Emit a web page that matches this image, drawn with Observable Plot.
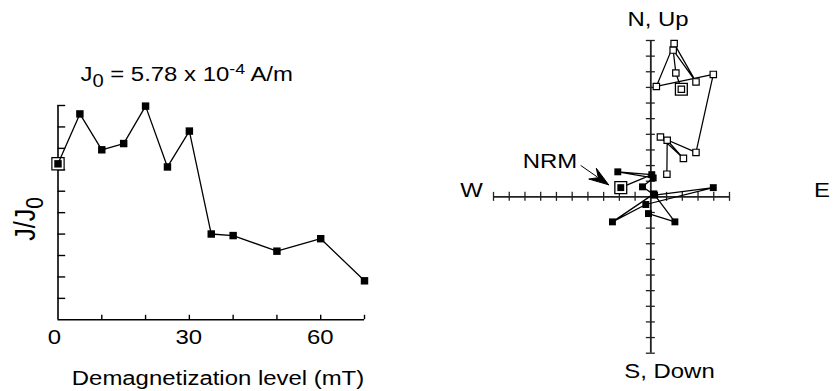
<!DOCTYPE html>
<html><head><meta charset="utf-8">
<script src="https://cdn.jsdelivr.net/npm/d3@7"></script>
<script src="https://cdn.jsdelivr.net/npm/@observablehq/plot@0.6"></script>
<style>
html,body{margin:0;padding:0;background:#fff;}
#wrap{position:relative;width:835px;height:391px;overflow:hidden;background:#fff;}
#wrap svg{position:absolute;top:0;overflow:visible;}
</style></head><body><div id="wrap"></div>
<script>
// ---------- Left panel: normalised intensity vs demagnetization ----------
const demagLevels    = [0, 5, 10, 15, 20, 25, 30, 35, 40, 50, 60, 70];
const intensityRatio = [1.00, 1.32, 1.09, 1.13, 1.37, 0.98, 1.21, 0.55, 0.54, 0.44, 0.52, 0.25];
const xTickValues = [10, 20, 30, 40, 50, 60, 70];
const xTickLabels = [0, 30, 60];
const yTickValues = [0.1374, 0.2748, 0.4122, 0.5496, 0.687, 0.8244, 0.9618, 1.0992, 1.2366, 1.374];

// ---------- Right panel: orthogonal (Zijderveld) projection ----------
// open squares: vertical projection; filled squares: horizontal projection
const vertX = [1.94, 1.59, 1.42, 2.87, 1.48, 0.35, 3.97, 2.87, 0.61, 2.07, 1.04, 1.02];
const vertY = [6.88, 7.92, 9.39, 7.35, 9.80, 7.06, 7.83, 2.84, 3.83, 2.46, 3.62, 1.45];
const horX  = [-1.91, 0.06, -2.10, 0.15, -0.53, 0.24, 3.97, -0.32, -2.44, 0.19, 1.53, -0.15];
const horY  = [0.59, 1.42, 1.60, 1.21, 0.64, 0.11, 0.59, -0.49, -1.60, 0.19, -1.60, -1.07];
const zxTicks = [-10,-9,-8,-7,-6,-5,-4,-3,-2,-1,1,2,3,4,5];
const zyTicks = [-10,-9,-8,-7,-6,-5,-4,-3,-2,-1,1,2,3,4,5,6,7,8,9,10];
const nrmArrow = {tail: [-4.46, 2.01], tip: [-2.68, 0.77]};

const FONT = "'Liberation Sans', Arial, Helvetica, sans-serif";
const SX = 1.15;
const wrap = document.getElementById("wrap");

function addText(svg, x, y, parts, opt = {}) {
  const size = opt.size || 20.8;
  let tr = `translate(${x},${y}) scale(${SX},1)`;
  if (opt.rotate) tr += ` rotate(${opt.rotate})`;
  const g = d3.select(svg).append("g").attr("transform", tr);
  const t = g.append("text").attr("text-anchor", opt.anchor || "middle")
    .attr("font-family", FONT).attr("font-size", size).attr("fill", "#000");
  for (const p of parts) {
    const ts = t.append("tspan").text(p.text);
    if (p.size) ts.attr("font-size", p.size);
    if (p.dy) ts.attr("dy", p.dy);
  }
}

// ----- left plot -----
const leftData = demagLevels.map((d, i) => ({mT: d, r: intensityRatio[i]}));
const left = Plot.plot({
  width: 420, height: 391,
  marginLeft: 57.5, marginRight: 56, marginTop: 105, marginBottom: 71.7,
  x: {domain: [0, 70], axis: null},
  y: {domain: [0, yTickValues[yTickValues.length - 1]], axis: null},
  style: {background: "transparent"},
  marks: [
    Plot.ruleX([0], {stroke: "#000", strokeWidth: 1.6}),
    Plot.ruleY([0], {stroke: "#000", strokeWidth: 1.6}),
    Plot.ruleX(xTickValues, {x: d => d, y1: 0, y2: 0, insetTop: -4.5, insetBottom: 0, stroke: "#000", strokeWidth: 1.4}),
    Plot.ruleY(yTickValues, {y: d => d, x1: 0, x2: 0, insetLeft: 0, insetRight: -7.7, stroke: "#000", strokeWidth: 1.4}),
    Plot.dot([leftData[0]], {x: "mT", y: "r", symbol: "square", r: 6.9, fill: "white", stroke: "#000", strokeWidth: 1.2}),
    Plot.line(leftData, {x: "mT", y: "r", stroke: "#000", strokeWidth: 1.3}),
    Plot.dot(leftData, {x: "mT", y: "r", symbol: "square", r: 4.2, fill: "#000"})
  ]
});
left.style.left = "0px";
wrap.appendChild(left);
const lx = left.scale("x");
for (const v of xTickLabels) addText(left, lx.apply(v) - (v === 0 ? 3 : 0), 344, [{text: String(v)}]);
addText(left, 218, 385, [{text: "Demagnetization level (mT)"}]);
addText(left, 186.7, 80.7, [
  {text: "J"}, {text: "0", size: 17.5, dy: 6}, {text: " = 5.78 x 10", dy: -6},
  {text: "-4", size: 15.5, dy: -7}, {text: " A/m", dy: 7}
]);
addText(left, 35, 219, [{text: "J/J"}, {text: "0", size: 21, dy: 7}], {rotate: -90, size: 25});

// ----- right plot -----
const vert = vertX.map((x, i) => ({x, y: vertY[i], step: demagLevels[i]}));
const hor = horX.map((x, i) => ({x, y: horY[i], step: demagLevels[i]}));
// arrow head polygon derived from the arrow's tip/tail
const [tx, ty] = nrmArrow.tip, [bx, by] = nrmArrow.tail;
const len = Math.hypot(tx - bx, ty - by), ux = (tx - bx) / len, uy = (ty - by) / len;
const nx = -uy, ny = ux, HL = 1.25, HW = 0.42, NL = 0.8;
const head = [
  {x: tx, y: ty},
  {x: tx - HL * ux + HW * nx, y: ty - HL * uy + HW * ny},
  {x: tx - NL * ux, y: ty - NL * uy},
  {x: tx - HL * ux - HW * nx, y: ty - HL * uy - HW * ny},
  {x: tx, y: ty}
];
const right = Plot.plot({
  width: 415, height: 391,
  marginLeft: 73, marginRight: 106, marginTop: 40, marginBottom: 38.3,
  x: {domain: [-10, 5], axis: null},
  y: {domain: [-10, 10], axis: null},
  style: {background: "transparent"},
  marks: [
    Plot.ruleX([0], {stroke: "#222", strokeWidth: 1.8}),
    Plot.ruleY([0], {stroke: "#222", strokeWidth: 1.8}),
    Plot.ruleX(zxTicks, {x: d => d, y1: 0, y2: 0, insetTop: -4.5, insetBottom: -4.5, stroke: "#222", strokeWidth: 1.3}),
    Plot.ruleY(zyTicks, {y: d => d, x1: 0, x2: 0, insetLeft: -4.5, insetRight: -4.5, stroke: "#222", strokeWidth: 1.3}),
    Plot.link([nrmArrow], {x1: d => d.tail[0], y1: d => d.tail[1], x2: d => d.tip[0] - 0.9 * ux, y2: d => d.tip[1] - 0.9 * uy, stroke: "#000", strokeWidth: 1}),
    Plot.line(head, {x: "x", y: "y", fill: "#000", stroke: "#000", strokeWidth: 1}),
    Plot.line(hor, {x: "x", y: "y", stroke: "#000", strokeWidth: 1.25}),
    Plot.line(vert, {x: "x", y: "y", stroke: "#000", strokeWidth: 1.25}),
    Plot.dot([hor[0], vert[0]], {x: "x", y: "y", symbol: "square", r: 6.7, fill: "white", stroke: "#000", strokeWidth: 1.3}),
    Plot.dot(hor, {x: "x", y: "y", symbol: "square", r: 3.9, fill: "#000"}),
    Plot.dot(vert, {x: "x", y: "y", symbol: "square", r: 3.6, fill: "white", stroke: "#000", strokeWidth: 1.2})
  ]
});
right.style.left = "420px";
wrap.appendChild(right);
addText(right, 238, 26, [{text: "N, Up"}]);
addText(right, 249.5, 378.3, [{text: "S, Down"}]);
addText(right, 51.5, 196.7, [{text: "W"}]);
addText(right, 402, 197, [{text: "E"}]);
addText(right, 130, 168.3, [{text: "NRM"}]);
</script></body></html>
